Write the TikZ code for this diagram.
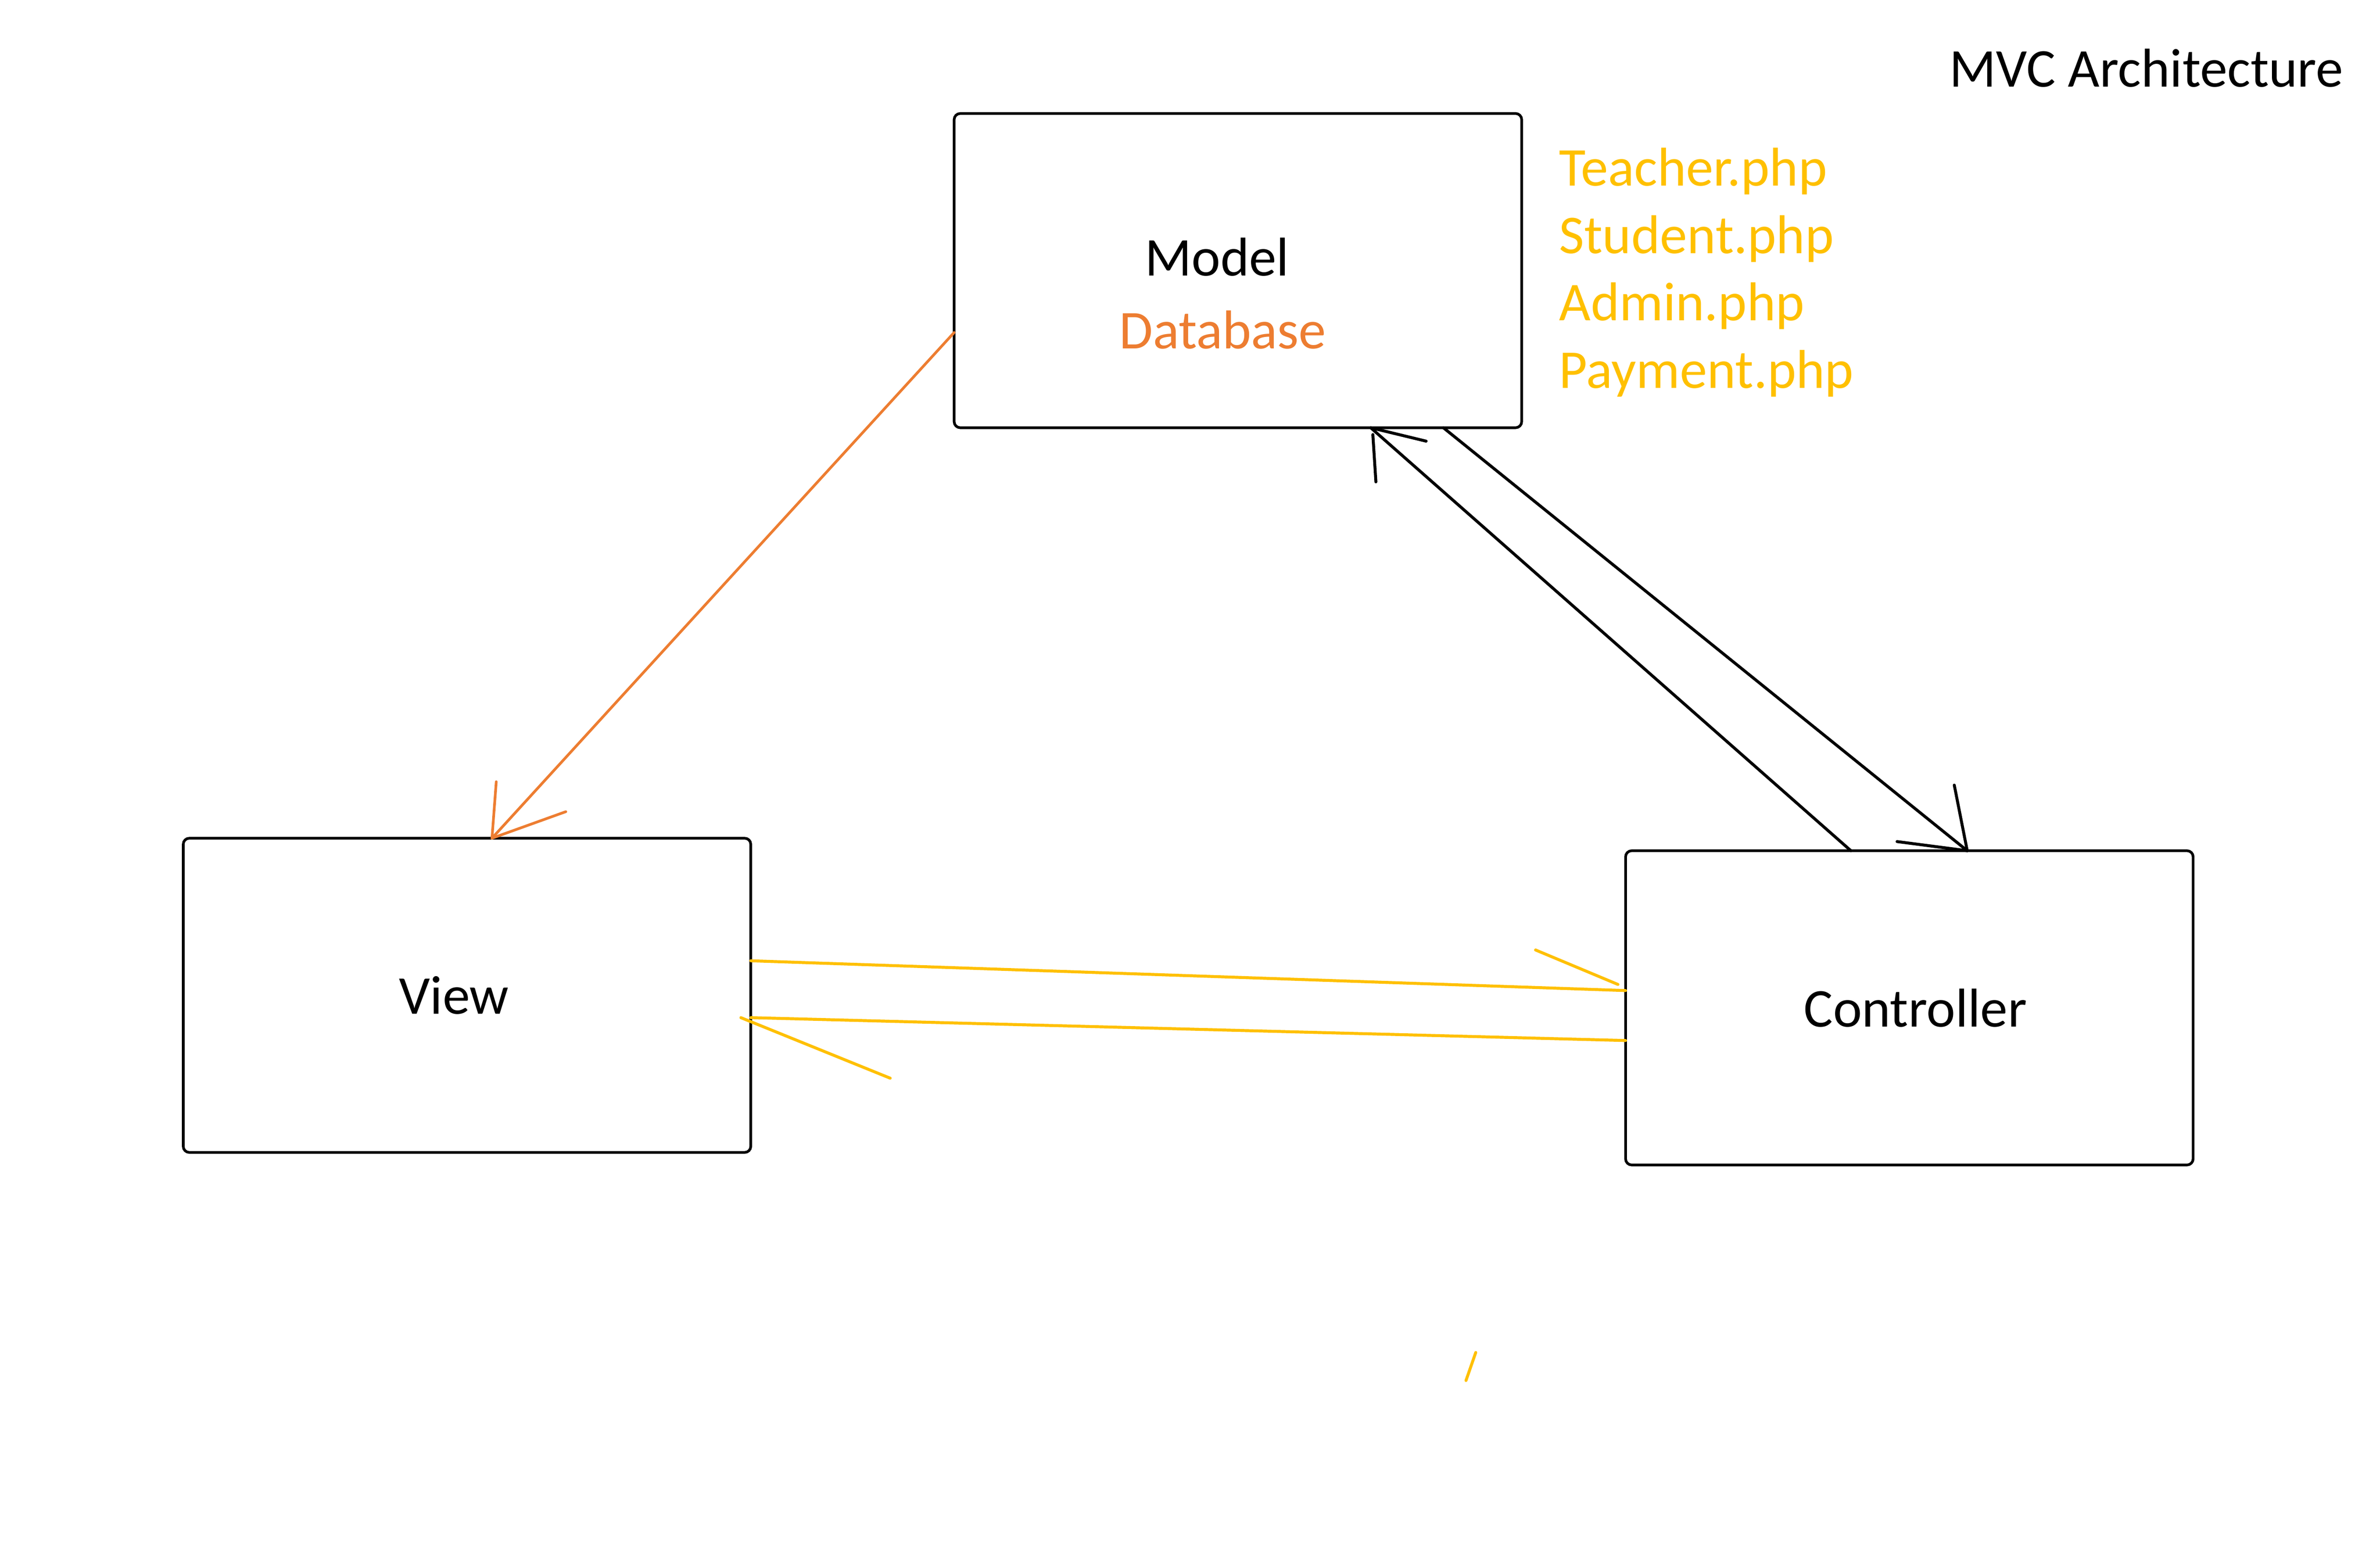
\documentclass[tikz,border=0pt]{standalone}
\usepackage{fontspec}
\setmainfont{Carlito}
\usepackage{tikz}
\usetikzlibrary{positioning, arrows.meta, calc}

\definecolor{dbOrange}{HTML}{ED7D31}
\definecolor{fileGold}{HTML}{FFC000}

\tikzset{
    mvcBlock/.style={draw, rounded corners=0.4mm, line width=0.5pt, minimum width=37.2mm, minimum height=20.6mm, inner sep=0pt, outer sep=0pt},
    phpFile/.style={text=fileGold, inner sep=0pt, outer sep=0pt, text height=3.2mm, text depth=1.22mm},
    blackLink/.style={line width=0.55pt, line cap=round},
    orangeLink/.style={draw=dbOrange, line width=0.5pt, line cap=round},
    goldLink/.style={draw=fileGold, line width=0.55pt, line cap=round}
}

\begin{document}
\begin{tikzpicture}[x=0.1mm, y=-0.1mm, font=\fontsize{10.2pt}{12.5pt}\selectfont]
        % Page frame
        \useasboundingbox (0,0) rectangle (1560,1017.4);

        %%% Blocks
            % Model box with its two labels
            \node[mvcBlock] (model) at (811.4,177.4) {};
            \node[anchor=base] (modelLabel) at (797.7,180.7) {Model};
            \node[anchor=base, text=dbOrange] (dbLabel) at (801.4,228.5) {Database};

            % View box, below left of the model
            \node[mvcBlock, below left=26.91mm and 13.33mm of model] (view) {View\hspace*{1.7mm}};

            % Controller box, below right of the model
            \node[mvcBlock, below right=27.73mm and 6.81mm of model] (controller) {\hspace*{0.8mm}Controller};

        %%% Texts
            % Title in the top right corner
            \node[anchor=base west, inner sep=0pt] (title) at (1277,56.9) {MVC Architecture};

            % Model files, one under the other
            \node[phpFile, anchor=base west] (teacher) at (1022,121.8) {Teacher.php};
            \node[phpFile, below=0pt of teacher.south west, anchor=north west] (student) {Student.php};
            \node[phpFile, below=0pt of student.south west, anchor=north west] (admin) {Admin.php};
            \node[phpFile, below=0pt of admin.south west, anchor=north west] (payment) {Payment.php};

        %%% Points on the borders
            \coordinate (m2vStart) at ($(model.north west)!0.697!(model.south west)$);
            \coordinate (m2vEnd) at ($(view.north west)!0.544!(view.north east)$);
            \coordinate (m2cStart) at ($(model.south west)!0.862!(model.south east)$);
            \coordinate (m2cEnd) at ($(controller.north west)!0.602!(controller.north east)$);
            \coordinate (c2mStart) at ($(controller.north west)!0.397!(controller.north east)$);
            \coordinate (c2mEnd) at ($(model.south west)!0.734!(model.south east)$);
            \coordinate (v2cStart) at ($(view.north east)!0.39!(view.south east)$);
            \coordinate (v2cEnd) at ($(controller.north west)!0.445!(controller.south west)$);
            \coordinate (c2vStart) at ($(controller.north west)!0.604!(controller.south west)$);
            \coordinate (c2vEnd) at ($(view.north east)!0.571!(view.south east)$);

        %%% Model to view (orange)
            \draw[orangeLink] (m2vStart) -- (m2vEnd);
            \draw[orangeLink] (m2vEnd) -- ++(2.8,-37); % left stroke of the head
            \draw[orangeLink] (m2vEnd) -- ++(48.4,-17.4); % right stroke of the head

        %%% Model and controller (black)
            \draw[blackLink] (m2cStart) -- (m2cEnd);
            \draw[blackLink] (m2cEnd) -- ++(-8.5,-43);
            \draw[blackLink] (m2cEnd) -- ++(-46,-6);

            \draw[blackLink] (c2mStart) -- (c2mEnd);
            \draw[blackLink] (c2mEnd) -- ++(36.3,8.8);
            \draw[blackLink] ($(c2mEnd)+(1.4,4.5)$) -- ++(2,31);

        %%% View and controller (gold)
            \draw[goldLink] (v2cStart) -- (v2cEnd);
            \draw[goldLink] ($(v2cEnd)+(-5,-4)$) -- ++(-54,-22.6);

            \draw[goldLink] (c2vStart) -- (c2vEnd);
            \draw[goldLink] ($(c2vEnd)+(-6.5,0)$) -- ++(97.9,39.7);

            % Stray stroke
            \draw[goldLink] (967.3,886.6) -- (960.9,905);
\end{tikzpicture}
\end{document}
